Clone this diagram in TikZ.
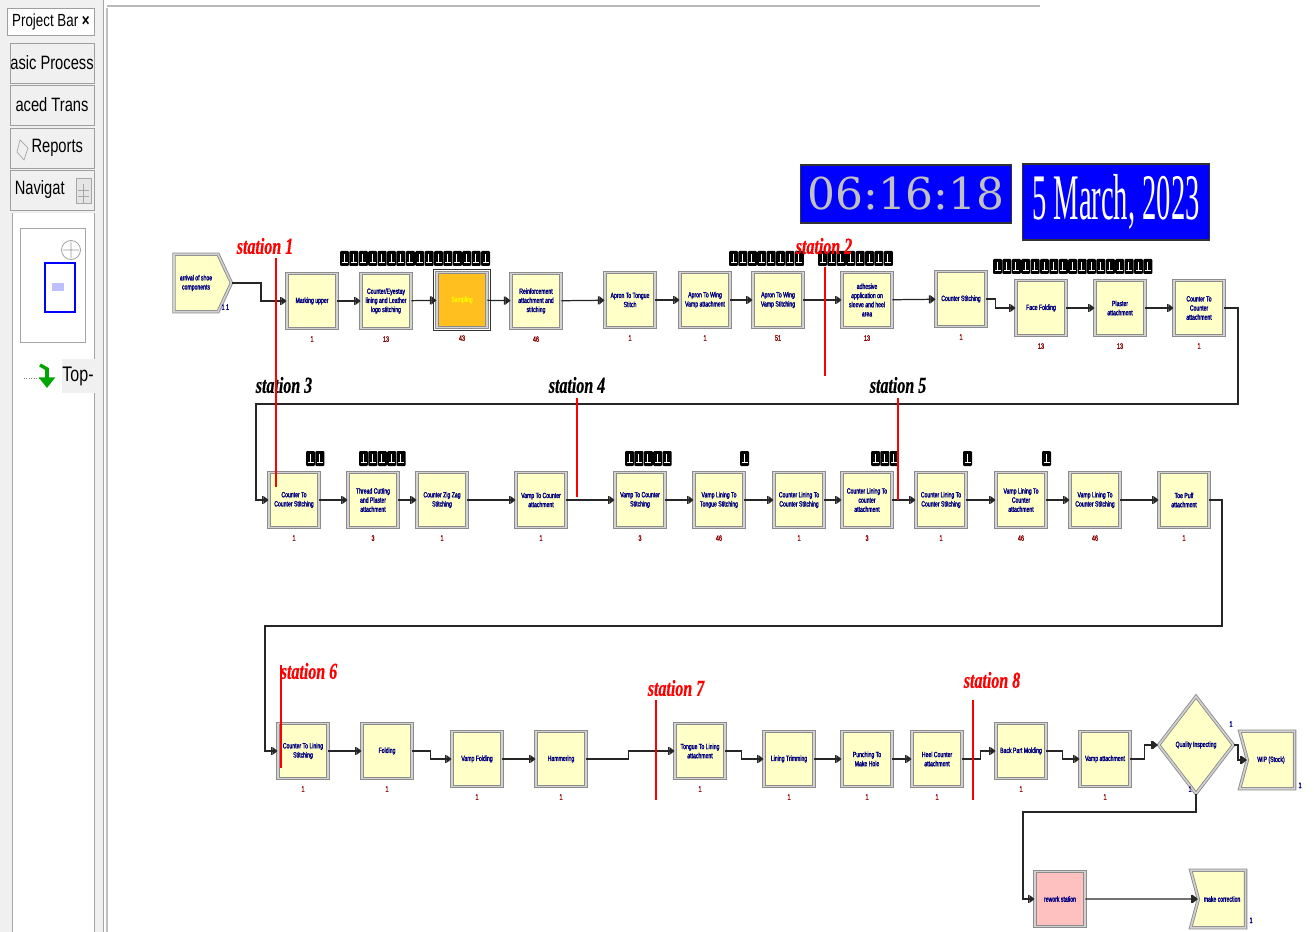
\documentclass[tikz,border=0pt]{standalone}
\usepackage{fontspec}
\setmainfont{Liberation Sans}
\newfontfamily\modfont[FakeStretch=0.68,FakeBold=2]{Liberation Sans}
\newfontfamily\stnfont[FakeStretch=0.7,FakeBold=0.6]{Liberation Serif}
\newfontfamily\clkfont{DejaVu Serif}
\newfontfamily\datfont[FakeStretch=0.44]{Liberation Serif}
\newfontfamily\barfont[FakeStretch=0.76]{Liberation Sans}
\usetikzlibrary{shapes.geometric, shapes.symbols, arrows.meta, positioning, calc}

\definecolor{modfill}{HTML}{FFFFC8}
\definecolor{modtext}{HTML}{000080}
\definecolor{cntred}{HTML}{8B0000}
\definecolor{arenablue}{HTML}{0000FF}
\definecolor{clkgray}{HTML}{C0C0C0}
\definecolor{sampfill}{HTML}{FFBF1F}
\definecolor{reworkfill}{HTML}{FFC0C0}
\definecolor{panelgray}{HTML}{F0F0F0}

% queue of entity pictures above a module: x, y (top left), count
\newcommand{\qicons}[3]{%
  \foreach \k in {1,...,#3}{%
    \pgfmathsetmacro{\qx}{#1+(\k-1)*9.4}%
    \fill[black, rounded corners=0.6pt] (\qx,#2) rectangle ++(9,15);
    \draw[white, line width=0.5pt] (\qx+4,#2+3) -- ++(0,8.5) -- ++(3.5,0)
      (\qx+1.5,#2+11.5) -- ++(2.5,0);
  }}

\begin{document}
\begin{tikzpicture}[x=0.02cm, y=-0.02cm,
  mod/.style={draw=gray!90, double=gray!35, double distance=0.9pt, line width=0.5pt,
              fill=modfill, minimum width=1.0cm, minimum height=1.1cm, inner sep=1pt,
              align=center, text=modtext, font=\modfont\fontsize{4.3}{5.2}\selectfont},
  cre/.style={mod, shape=signal, signal to=east, signal pointer angle=130,
              minimum width=1.15cm, minimum height=1.15cm},
  dsp/.style={mod, shape=signal, signal to=nowhere, signal from=west, signal pointer angle=150,
              minimum width=1.1cm, minimum height=1.15cm},
  dia/.style={mod, shape=diamond, minimum width=1.5cm, minimum height=1.95cm, inner sep=0pt},
  cnt/.style={text=cntred, inner sep=0pt, font=\modfont\fontsize{4.5}{5}\selectfont},
  cntb/.style={cnt, text=modtext},
  link/.style={draw=black!85, line width=0.7pt,
               -{Bar[width=4.5pt,line width=0.8pt] Triangle[length=3pt,width=4.5pt]}},
  stn/.style={text=red, inner sep=0pt, font=\stnfont\bfseries\itshape\fontsize{13}{13}\selectfont},
  stk/.style={stn, text=black},
  sline/.style={draw=red, line width=1.3pt},
  pbtn/.style={draw=gray!75, fill=panelgray, minimum width=1.68cm, minimum height=0.8cm,
               inner sep=0pt, font=\barfont\fontsize{11}{11}\selectfont},
]
\useasboundingbox (0,0) rectangle (1314,932);
\fill[white] (0,0) rectangle (1314,932);

% project bar
\fill[panelgray] (0,0) rectangle (103,932);
\draw[gray!70] (103,0) -- (103,932);
\draw[gray!50, line width=1pt] (107,8) -- (107,932);
\draw[gray!55, line width=1pt] (107,6) -- (1040,6);
\node[draw=gray!75, fill=white, minimum width=1.74cm, minimum height=0.54cm, inner sep=0pt,
      font=\barfont\fontsize{10}{10}\selectfont] (pbar) at (51,22) {Project Bar \textbf{×}};
\node[pbtn] (bp1) at (52,63) {asic Process};
\node[pbtn] (bp2) at (52,105) {aced Trans};
\node[pbtn] (bp3) at (52,148) {\hspace*{6pt}Reports};
\node[pbtn] (bp4) at (52,190) {Navigat\hspace*{14pt}};
\draw[gray!70, fill=gray!20] (76,178) rectangle (91,203);
\draw[gray!70] (78,190) -- (89,190) (78,196) -- (89,196) (83,184) -- (83,203);
\draw[gray!70] (20,140) -- (17,152) -- (24,160) -- (28,148) -- cycle;
\fill[white] (12,213) rectangle (94,932);
\draw[gray!70] (12,213) -- (12,932) (94,213) -- (94,932);
\draw[gray!70] (20,228) rectangle (85,342);
\draw[gray!80] (71,250) circle (9.5) (63,250) -- (79,250) (71,242) -- (71,258);
\draw[arenablue, line width=0.8pt] (45,263) rectangle (75,312);
\fill[blue!25] (52,283) rectangle (64,291);
\fill[gray!12] (62,359) rectangle (95,393);
\node[font=\barfont\fontsize{12}{12}\selectfont, inner sep=0pt] (top) at (78,376) {Top-};
\draw[gray, densely dotted] (24,378) -- (39,378);
\draw[green!65!black, line width=2pt, -{Triangle[length=6pt,width=9pt]}] (40,365) -- (47,369) -- (47,388);

% clock and date
\node[draw=black!80, line width=1pt, fill=arenablue, text=clkgray, minimum width=4.22cm,
      minimum height=1.17cm, inner sep=0pt, font=\clkfont\fontsize{25}{25}\selectfont] (clk) at (906,194) {06:16:18};
\node[draw=black!80, line width=1pt, fill=arenablue, text=white, minimum width=3.74cm,
      minimum height=1.52cm, inner sep=0pt, font=\datfont\fontsize{37}{37}\selectfont] (dat) at (1116,202) {5 March, 2023};

% row 1
\node[cre] (cr) at (196,283) {arrival of shoe\\components};
\node[mod] (mu) at (312,301) {Marking upper};
\node[mod] (ce) at (386,301) {Counter/Eyestay\\lining and Leather\\logo stitching};
\node[mod, fill=sampfill, text=yellow] (sa) at (462,300) {Sampling};
\node[mod] (rf) at (536,301) {Reinforcement\\attachment and\\stitching};
\node[mod] (atg) at (630,300) {Apron To Tongue\\Stitch};
\node[mod] (awa) at (705,300) {Apron To Wing\\Vamp attachment};
\node[mod] (aws) at (778,300) {Apron To Wing\\Vamp Stitching};
\node[mod] (ad) at (867,300) {adhesive\\application on\\sleeve and heel\\area};
\node[mod] (cs) at (961,299) {Counter Stitching};
\node[mod] (ff) at (1041,308) {Face Folding};
\node[mod] (pl) at (1120,308) {Plaster\\attachment};
\node[mod] (cca) at (1199,308) {Counter To\\Counter\\attachment};
\draw[black!80, line width=0.6pt] ($(sa.north west)+(-3,-3)$) rectangle ($(sa.south east)+(3,3)$);

% row 2
\node[mod] (ccs) at (294,500) {Counter To\\Counter Stitching};
\node[mod] (tc) at (373,500) {Thread Cutting\\and Plaster\\attachment};
\node[mod] (zz) at (442,500) {Counter Zig Zag\\Stitching};
\node[mod] (vca) at (541,500) {Vamp To Counter\\attachment};
\node[mod] (vcs) at (640,500) {Vamp To Counter\\Stitching};
\node[mod] (vlt) at (719,500) {Vamp Lining To\\Tongue Stitching};
\node[mod] (cls1) at (799,500) {Counter Lining To\\Counter Stitching};
\node[mod] (cla) at (867,500) {Counter Lining To\\counter\\attachment};
\node[mod] (cls2) at (941,500) {Counter Lining To\\Counter Stitching};
\node[mod] (vla) at (1021,500) {Vamp Lining To\\Counter\\attachment};
\node[mod] (vls) at (1095,500) {Vamp Lining To\\Counter Stitching};
\node[mod] (tp) at (1184,500) {Toe Puff\\attachment};

% row 3
\node[mod] (cls) at (303,751) {Counter To Lining\\Stitching};
\node[mod] (fo) at (387,751) {Folding};
\node[mod] (vf) at (477,759) {Vamp Folding};
\node[mod] (hm) at (561,759) {Hammering};
\node[mod] (tla) at (700,751) {Tongue To Lining\\attachment};
\node[mod] (lt) at (789,759) {Lining Trimming};
\node[mod] (pm) at (867,759) {Punching To\\Make Hole};
\node[mod] (hca) at (937,759) {Heel Counter\\attachment};
\node[mod] (bp) at (1021,751) {Back Part Molding};
\node[mod] (va) at (1105,759) {Vamp attachment};
\node[dia] (qi) at (1196,745) {Quality Inspecting};
\node[dsp] (wip) at (1271,760) {WIP (Stock)};
\node[mod, fill=reworkfill] (rw) at (1060,899) {rework station};
\node[dsp] (mc) at (1222,899) {make correction};

% counters
\foreach \m/\v in {mu/1, ce/13, sa/43, rf/46, atg/1, awa/1, aws/51, ad/13, cs/1, ff/13, pl/13, cca/1,
                   ccs/1, tc/3, zz/1, vca/1, vcs/3, vlt/46, cls1/1, cla/3, cls2/1, vla/46, vls/46, tp/1,
                   cls/1, fo/1, vf/1, hm/1, tla/1, lt/1, pm/1, hca/1, bp/1, va/1}
  \node[cnt, below=1.4mm of \m] (\m-n) {\v};
\node[cntb] (cr-n) at ($(cr.south east)+(7,-5)$) {1 1};
\node[cntb] (qi-n1) at ($(qi.east)+(-3,-21)$) {1};
\node[cntb] (qi-n2) at ($(qi.south)+(-6,-5)$) {1};
\node[cntb] (wip-n) at ($(wip.south east)+(5,-3)$) {1};
\node[cntb] (mc-n) at ($(mc.south east)+(5,-7)$) {1};

% queues
\qicons{340}{251}{16}
\qicons{729}{251}{8}
\qicons{818}{251}{8}
\qicons{993}{259}{17}
\qicons{306}{451}{2}
\qicons{359}{451}{5}
\qicons{625}{451}{5}
\qicons{740}{451}{1}
\qicons{871}{451}{3}
\qicons{963}{451}{1}
\qicons{1042}{451}{1}

% bends
\coordinate (b1) at (1238,404);
\coordinate (b2) at (256,404);
\coordinate (b3) at (1222,626);
\coordinate (b4) at (265,626);
\coordinate (b5) at (1023,812);

% connectors row 1
\draw[link] (cr.east) -- ++(29,0) |- (mu.west);
\draw[link] (mu) -- (ce);
\draw[link] (ce) -- (sa);
\draw[link] (sa) -- (rf);
\draw[link] (rf) -- (atg);
\draw[link] (atg) -- (awa);
\draw[link] (awa) -- (aws);
\draw[link] (aws) -- (ad);
\draw[link] (ad) -- (cs);
\draw[link] (cs.east) -- ++(9,0) |- (ff.west);
\draw[link] (ff) -- (pl);
\draw[link] (pl) -- (cca);
\draw[link] (cca.east) -| (b1) -- (b2) |- (ccs.west);

% connectors row 2
\draw[link] (ccs) -- (tc);
\draw[link] (tc) -- (zz);
\draw[link] (zz) -- (vca);
\draw[link] (vca) -- (vcs);
\draw[link] (vcs) -- (vlt);
\draw[link] (vlt) -- (cls1);
\draw[link] (cls1) -- (cla);
\draw[link] (cla) -- (cls2);
\draw[link] (cls2) -- (vla);
\draw[link] (vla) -- (vls);
\draw[link] (vls) -- (tp);
\draw[link] (tp.east) -| (b3) -- (b4) |- (cls.west);

% connectors row 3
\draw[link] (cls) -- (fo);
\draw[link] (fo.east) -- ++(18,0) |- (vf.west);
\draw[link] (vf) -- (hm);
\draw[link] (hm.east) -- ++(42,0) |- (tla.west);
\draw[link] (tla.east) -- ++(16,0) |- (lt.west);
\draw[link] (lt) -- (pm);
\draw[link] (pm) -- (hca);
\draw[link] (hca.east) -- ++(18,0) |- (bp.west);
\draw[link] (bp.east) -- ++(16,0) |- (va.west);
\draw[link] (va.east) -- ++(14,0) |- (qi.west);
\draw[link] (qi.east) -- ++(4,0) |- (wip.west);
\draw[link] (qi.south) |- (b5) |- (rw.west);
\draw[link] (rw) -- (mc);

% stations
\node[stn] (st1) at (265,246) {station 1};
\node[stn] (st2) at (824,246) {station 2};
\node[stk] (st3) at (284,385) {station 3};
\node[stk] (st4) at (577,385) {station 4};
\node[stk] (st5) at (898,385) {station 5};
\node[stn] (st6) at (309,671) {station 6};
\node[stn] (st7) at (676,688) {station 7};
\node[stn] (st8) at (992,680) {station 8};
\draw[sline] (276,258) -- (276,487);
\draw[sline] (825,267) -- (825,376);
\draw[sline] (577,398) -- (577,497);
\draw[sline] (898,398) -- (898,500);
\draw[sline] (281,665) -- (281,768);
\draw[sline] (656,700) -- (656,800);
\draw[sline] (973,700) -- (973,800);
\end{tikzpicture}
\end{document}
